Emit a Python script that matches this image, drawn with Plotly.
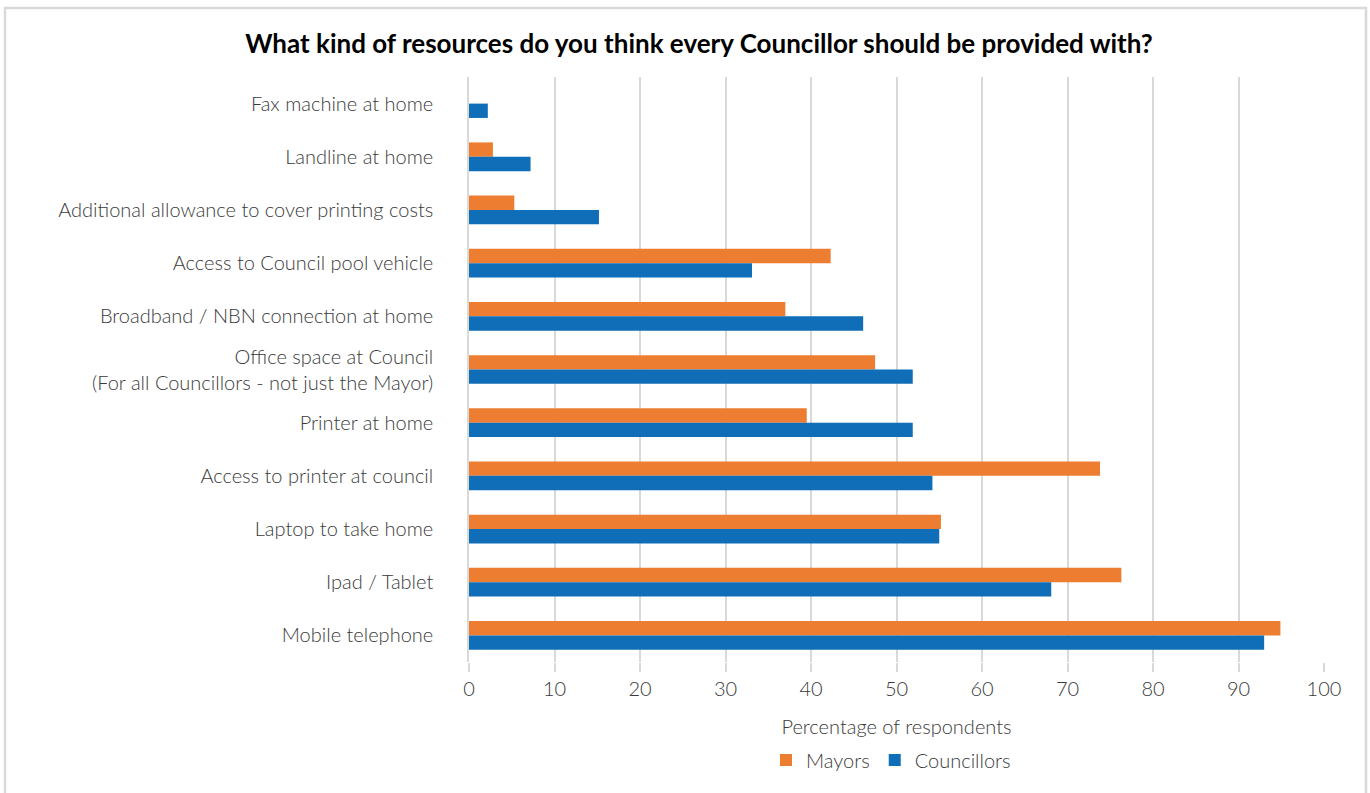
import plotly.graph_objects as go

# Survey resources, listed top to bottom as shown
categories = [
    "Fax machine at home",
    "Landline at home",
    "Additional allowance to cover printing costs",
    "Access to Council pool vehicle",
    "Broadband / NBN connection at home",
    "Office space at Council<br>(For all Councillors - not just the Mayor)",
    "Printer at home",
    "Access to printer at council",
    "Laptop to take home",
    "Ipad / Tablet",
    "Mobile telephone",
]
mayors = [0, 2.8, 5.3, 42.3, 37.0, 47.5, 39.5, 73.8, 55.2, 76.3, 94.9]
councillors = [2.2, 7.2, 15.2, 33.1, 46.1, 51.9, 51.9, 54.2, 55.0, 68.1, 93.0]
x_ticks = [0, 10, 20, 30, 40, 50, 60, 70, 80, 90, 100]

W, H = 1370, 793
ML, MR, MT, MB = 469, 46, 77, 131
PW, PH = W - ML - MR, H - MT - MB

FONT = "Lato, 'Source Sans Pro', 'Open Sans', sans-serif"
ORANGE = "#ED7D31"
BLUE = "#0F6EB7"
GRID = "#D9D9D9"
TEXT = "#3A3A3A"


def px_x(p):
    return (p - ML) / PW


def px_y(p):
    return (H - MB - p) / PH


fig = go.Figure()
fig.add_trace(go.Bar(
    y=categories, x=mayors, name="Mayors", orientation="h",
    marker=dict(color=ORANGE, line=dict(width=0)),
))
fig.add_trace(go.Bar(
    y=categories, x=councillors, name="Councillors", orientation="h",
    marker=dict(color=BLUE, line=dict(width=0)),
))

fig.update_layout(
    width=W, height=H,
    margin=dict(l=ML, r=MR, t=MT, b=MB),
    paper_bgcolor="white", plot_bgcolor="white",
    barmode="group", bargap=0.46, bargroupgap=0,
    font=dict(family=FONT, size=20, color=TEXT, weight=300),
    title=dict(
        text="What kind of resources do you think every Councillor should be provided with?",
        x=699 / W, xref="container", xanchor="center",
        y=1 - 44 / H, yref="container", yanchor="middle",
        font=dict(family=FONT, size=26, color="black", weight=700),
    ),
    xaxis=dict(
        range=[0, 100], tickvals=x_ticks, ticktext=[str(v) for v in x_ticks],
        showgrid=True, gridcolor=GRID, gridwidth=1.5,
        ticks="outside", ticklen=9, tickcolor=GRID, tickwidth=1.5,
        zeroline=False, showline=False,
        tickfont=dict(size=20, color=TEXT),
        title=dict(text="Percentage of respondents", standoff=20,
                   font=dict(size=20, color=TEXT)),
    ),
    yaxis=dict(
        autorange="reversed", showgrid=False, zeroline=False,
        showline=True, linecolor=GRID, linewidth=1.5,
        ticks="", ticklabelstandoff=30,
        tickfont=dict(size=20, color=TEXT),
    ),
    legend=dict(
        orientation="h", x=px_x(891), xanchor="center",
        y=px_y(760), yanchor="middle",
        font=dict(size=20, color=TEXT), itemwidth=30,
        traceorder="normal",
    ),
    shapes=[dict(
        type="rect", xref="paper", yref="paper",
        x0=px_x(5), x1=px_x(1366), y0=px_y(800), y1=px_y(8),
        line=dict(color=GRID, width=2.5), layer="below",
    )],
)

fig.write_html("out.html")
